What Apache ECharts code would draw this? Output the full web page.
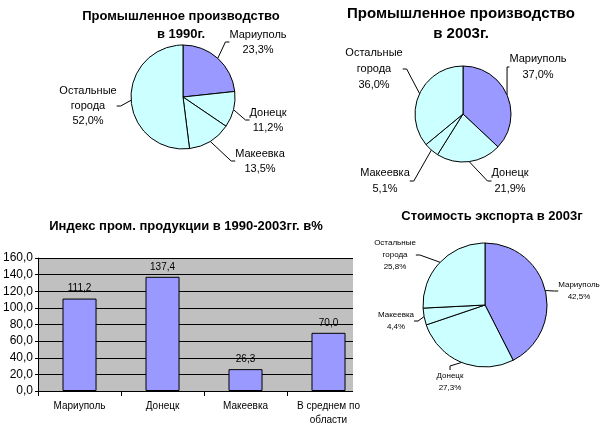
<!DOCTYPE html>
<html>
<head>
<meta charset="utf-8">
<script src="https://cdn.jsdelivr.net/npm/echarts@6/dist/echarts.min.js"></script>
<style>
  html, body { margin: 0; padding: 0; background: #fff; }
  #chart { width: 610px; height: 427px; }
</style>
</head>
<body>
<div id="chart"></div>
<script>
// cities (pie order, clockwise from top)
const cities = ["Мариуполь", "Донецк", "Макеевка", "Остальные\nгорода"];
const prod1990 = [23.3, 11.2, 13.5, 52.0];
const prod2003 = [37.0, 21.9, 5.1, 36.0];
const export2003 = [42.5, 27.3, 4.4, 25.8];

// bar chart
const barCategories = ["Мариуполь", "Донецк", "Макеевка", "В среднем по\nобласти"];
const indexValues = [111.2, 137.4, 26.3, 70.0];

const fmt = (v) => v.toFixed(1).replace(".", ",");
const FONT = "Liberation Sans, Arial, sans-serif";
const sliceColors = ["#9999FF", "#CCFFFF", "#CCFFFF", "#CCFFFF"];

// where each pie's labels sit (label centres, same order as cities)
const labelSpots = [
  [[258, 42], [268, 120], [260, 161], [88, 106]],
  [[538, 67], [510, 181], [385, 181], [374, 69]],
  [[579, 291], [450, 382], [396, 321], [395, 255]],
];

const pieData = (values) =>
  values.map((v, i) => ({
    name: cities[i],
    value: v,
    itemStyle: { color: sliceColors[i] },
  }));

const pieSeries = (values, center, radius, fontSize, lineHeight, spots) => ({
  type: "pie",
  center: center,
  radius: radius,
  startAngle: 90,
  clockwise: true,
  silent: true,
  data: pieData(values),
  itemStyle: { borderColor: "#000", borderWidth: 1 },
  label: {
    show: true,
    position: "outside",
    formatter: (p) => p.name + "\n" + fmt(p.value) + "%",
    color: "#000",
    fontFamily: FONT,
    fontSize: fontSize,
    lineHeight: lineHeight,
    overflow: "none",
  },
  labelLine: {
    show: true,
    length: 8,
    length2: 4,
    lineStyle: { color: "#000", width: 1 },
  },
  labelLayout: (p) => ({
    x: spots[p.dataIndex][0],
    y: spots[p.dataIndex][1],
    align: "center",
    verticalAlign: "middle",
  }),
});

const chart = echarts.init(document.getElementById("chart"));

const options = {
  animation: false,
  title: [
    {
      text: "Промышленное производство\nв 1990г.",
      left: 176,
      top: 2,
      textAlign: "center",
      textStyle: { fontFamily: FONT, fontSize: 13, fontWeight: "bold", lineHeight: 18, color: "#000" },
    },
    {
      text: "Промышленное производство\nв 2003г.",
      left: 456,
      top: -1,
      textAlign: "center",
      textStyle: { fontFamily: FONT, fontSize: 15, fontWeight: "bold", lineHeight: 20, color: "#000" },
    },
    {
      text: "Индекс пром. продукции в 1990-2003гг. в%",
      left: 181,
      top: 215,
      textAlign: "center",
      textStyle: { fontFamily: FONT, fontSize: 13, fontWeight: "bold", color: "#000" },
    },
    {
      text: "Стоимость экспорта в 2003г",
      left: 487,
      top: 205,
      textAlign: "center",
      textStyle: { fontFamily: FONT, fontSize: 13, fontWeight: "bold", color: "#000" },
    },
  ],
  // the bar plot runs on past the picture's cut at x=352, as in the source image
  graphic: [
    {
      type: "rect",
      z: 1,
      shape: { x: 353, y: 250, width: 22, height: 150 },
      style: { fill: "#fff" },
      silent: true,
    },
  ],
  grid: {
    left: 38,
    right: 240,
    top: 258,
    bottom: 36,
    show: true,
    backgroundColor: "#C0C0C0",
    borderWidth: 0,
  },
  xAxis: {
    type: "category",
    data: barCategories,
    axisLine: { lineStyle: { color: "#000" } },
    axisTick: { show: true, alignWithLabel: false, lineStyle: { color: "#000" } },
    axisLabel: { color: "#000", fontFamily: FONT, fontSize: 10, lineHeight: 14, margin: 8, interval: 0 },
  },
  yAxis: {
    type: "value",
    min: 0,
    max: 160,
    interval: 20,
    axisLine: { show: true, lineStyle: { color: "#000" } },
    axisTick: { show: true, length: 3, lineStyle: { color: "#000" } },
    axisLabel: { color: "#000", fontFamily: FONT, fontSize: 12, formatter: (v) => fmt(v), margin: 5 },
    splitLine: { lineStyle: { color: "#000", width: 1 } },
  },
  series: [
    pieSeries(prod1990, [183, 97], 52, 11, 15, labelSpots[0]),
    pieSeries(prod2003, [463, 114], 48, 11, 16, labelSpots[1]),
    pieSeries(export2003, [485, 305], 62, 8, 12, labelSpots[2]),
    {
      type: "bar",
      data: indexValues,
      barWidth: "41%",
      silent: true,
      itemStyle: { color: "#9999FF", borderColor: "#000", borderWidth: 1 },
      label: {
        show: true,
        position: "top",
        formatter: (p) => fmt(p.value),
        color: "#000",
        fontFamily: FONT,
        fontSize: 10,
      },
    },
  ],
};

chart.setOption(options);
</script>
</body>
</html>
